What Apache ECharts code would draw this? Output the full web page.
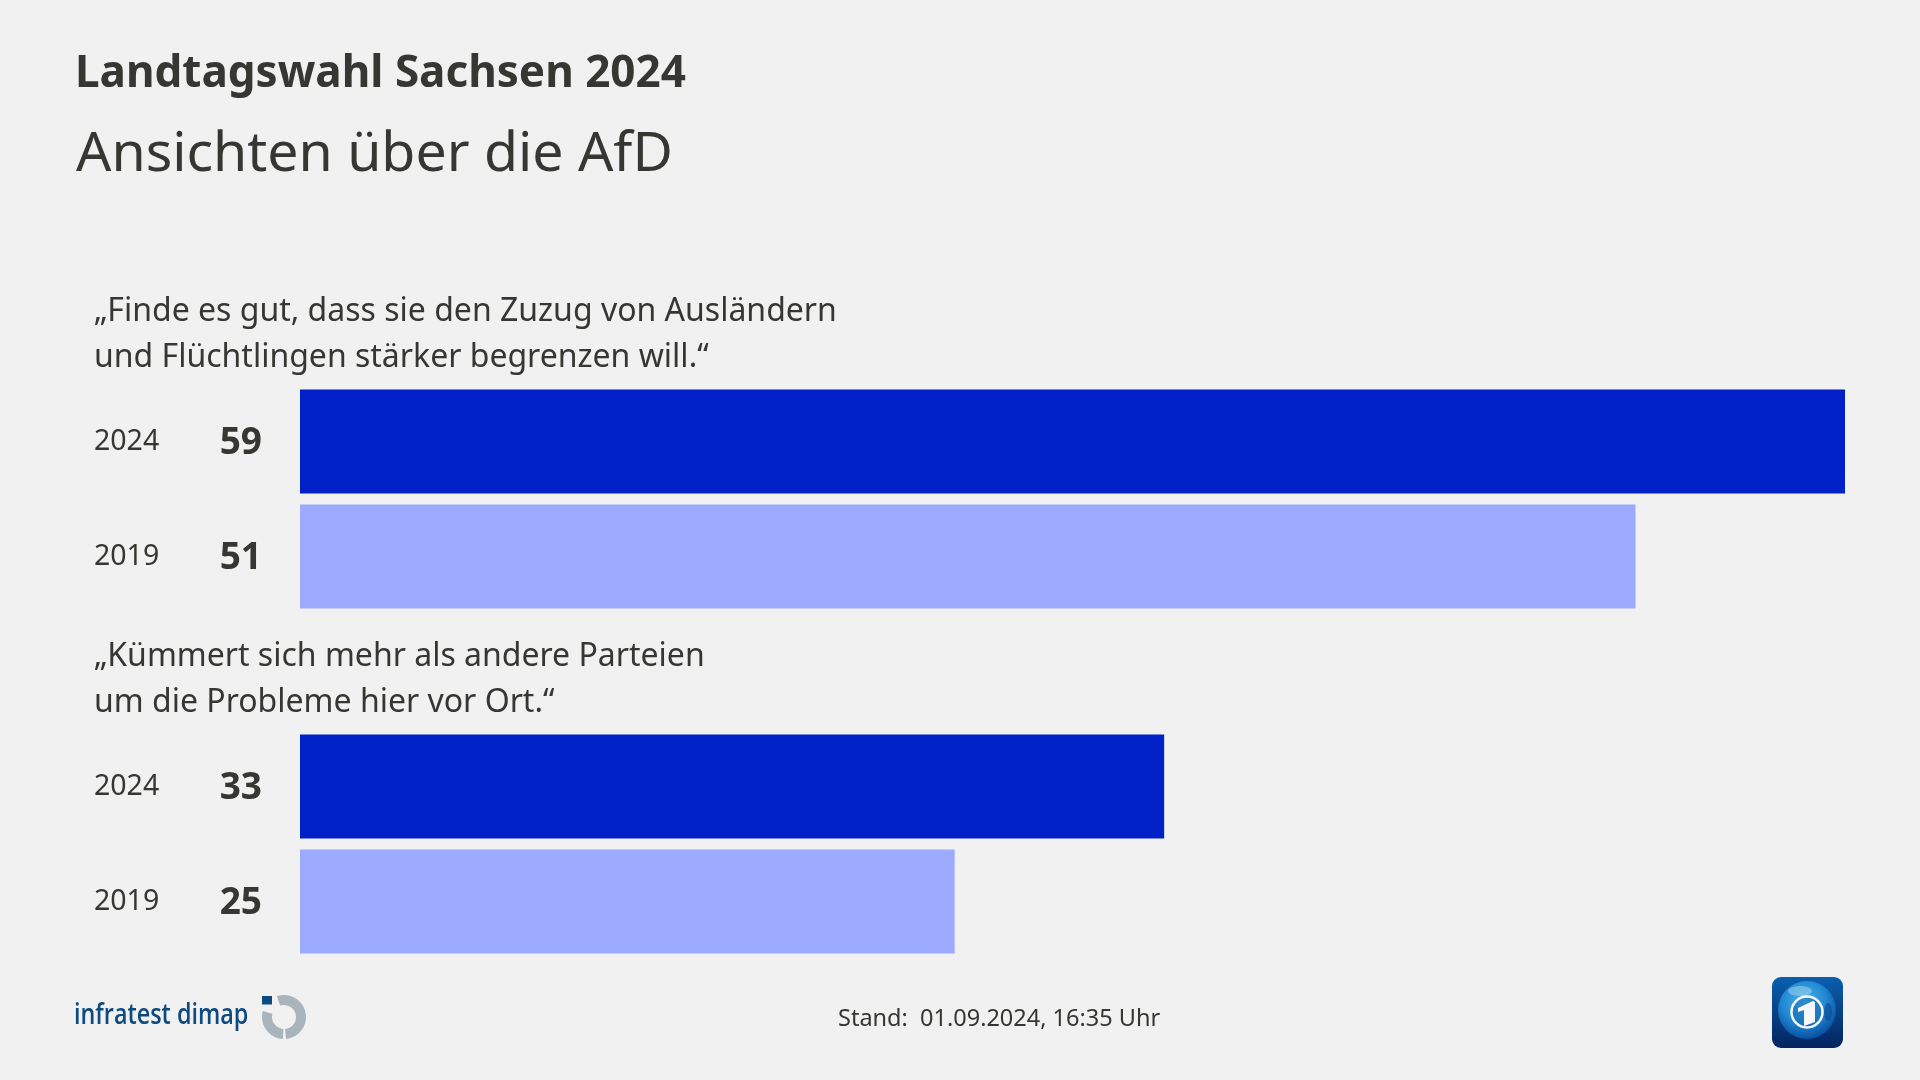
<!DOCTYPE html>
<html><head><meta charset="utf-8">
<style>html,body{margin:0;padding:0;background:#f1f1f1}#c{width:1920px;height:1080px}</style>
<script src="https://cdn.jsdelivr.net/npm/echarts@6/dist/echarts.min.js"></script>
</head><body><div id="c"></div>
<script>
var titleText = 'Landtagswahl Sachsen 2024';
var subtitleText = 'Ansichten über die AfD';
var question1 = ['„Finde es gut, dass sie den Zuzug von Ausländern', 'und Flüchtlingen stärker begrenzen will.“'];
var question2 = ['„Kümmert sich mehr als andere Parteien', 'um die Probleme hier vor Ort.“'];
var categories = ['2024', '2019', '', '2024', '2019'];
var values = [59, 51, null, 33, 25];
var colorDark = '#0020c8';
var colorLight = '#9caaff';
var standText = 'Stand:  01.09.2024, 16:35 Uhr';
var textColor = '#363632';
var font = '"Noto Sans"';

var barColors = [colorDark, colorLight, colorDark, colorDark, colorLight];

function txt(x, y, t, size, weight, color, extra) {
  var st = {x: x, y: y, text: t, fontFamily: font, fontSize: size, fontWeight: weight || 400, fill: color || textColor, verticalAlign: 'middle'};
  if (extra) for (var k in extra) st[k] = extra[k];
  return {type: 'text', silent: true, style: st};
}
var logoBlue = '#0d4a80', logoGrey = '#a9b4bd';
var graphics = [
  txt(75, 74, titleText, 44, 700),
  txt(76, 155, subtitleText, 55.4, 400),
  txt(94, 312, question1[0], 32),
  txt(94, 358, question1[1], 32),
  txt(94, 657, question2[0], 32),
  txt(94, 703, question2[1], 32),
  txt(838, 1019, standText, 23.5),
  {type: 'text', silent: true, x: 74, y: 1016, scaleX: 0.835, style: {x: 0, y: 0, text: 'infratest dimap', fontFamily: '"Open Sans"', fontSize: 28, fontWeight: 600, fill: logoBlue, verticalAlign: 'middle'}},
  {type: 'rect', silent: true, shape: {x: 262, y: 996, width: 10, height: 8.5}, style: {fill: logoBlue}},
  {type: 'sector', silent: true, shape: {cx: 284, cy: 1017, r: 22, r0: 12, startAngle: -1.9, endAngle: 1.48}, style: {fill: logoGrey}},
  {type: 'sector', silent: true, shape: {cx: 284, cy: 1017, r: 22, r0: 12, startAngle: 1.62, endAngle: 3.42}, style: {fill: logoGrey}},
  {type: 'rect', silent: true, shape: {x: 1772, y: 977, width: 71, height: 71, r: 9},
    style: {fill: {type: 'linear', x: 0, y: 0, x2: 0, y2: 1, colorStops: [{offset: 0, color: '#0a5fae'}, {offset: 1, color: '#04245f'}]}}},
  {type: 'circle', silent: true, shape: {cx: 1807, cy: 1010, r: 29},
    style: {fill: {type: 'radial', x: 0.45, y: 0.35, r: 0.65, colorStops: [{offset: 0, color: '#4fb2e8'}, {offset: 0.6, color: '#1f86d2'}, {offset: 1, color: '#0a4f9f'}]}}},
  {type: 'ellipse', silent: true, shape: {cx: 1800, cy: 991, rx: 12, ry: 5}, style: {fill: 'rgba(170,215,240,0.5)'}},
  {type: 'ellipse', silent: true, shape: {cx: 1828, cy: 1012, rx: 4, ry: 9}, style: {fill: 'rgba(10,60,130,0.5)'}},
  {type: 'circle', silent: true, shape: {cx: 1807, cy: 1012, r: 15.5}, style: {fill: 'rgba(20,100,170,0.5)', stroke: '#f2f8fc', lineWidth: 2.5}},
  {type: 'polygon', silent: true, shape: {points: [[1798, 1008], [1813, 1001], [1815, 1002], [1815, 1022], [1804, 1026], [1804, 1010], [1798, 1012]]}, style: {fill: '#f4f8fb'}}
];

var chart = echarts.init(document.getElementById('c'), null, {renderer: 'canvas'});
chart.setOption({
  backgroundColor: '#f1f1f1',
  animation: false,
  grid: {left: 300, top: 384, width: 1545, height: 575, containLabel: false},
  xAxis: {type: 'value', min: 0, max: 59, show: false},
  yAxis: {
    type: 'category', inverse: true, data: categories,
    axisLine: {show: false}, axisTick: {show: false},
    axisLabel: {fontFamily: font, fontSize: 28.5, color: textColor, align: 'left', margin: 206, padding: [8, 0, 0, 0]}
  },
  series: [{
    type: 'bar', barWidth: 104,
    data: values.map(function (v, i) { return {value: v, itemStyle: {color: barColors[i]}}; }),
    label: {show: true, position: 'left', distance: 38, offset: [0, 2], fontFamily: font, fontSize: 37, fontWeight: 700, color: textColor}
  }],
  graphic: {elements: graphics}
});
</script></body></html>
